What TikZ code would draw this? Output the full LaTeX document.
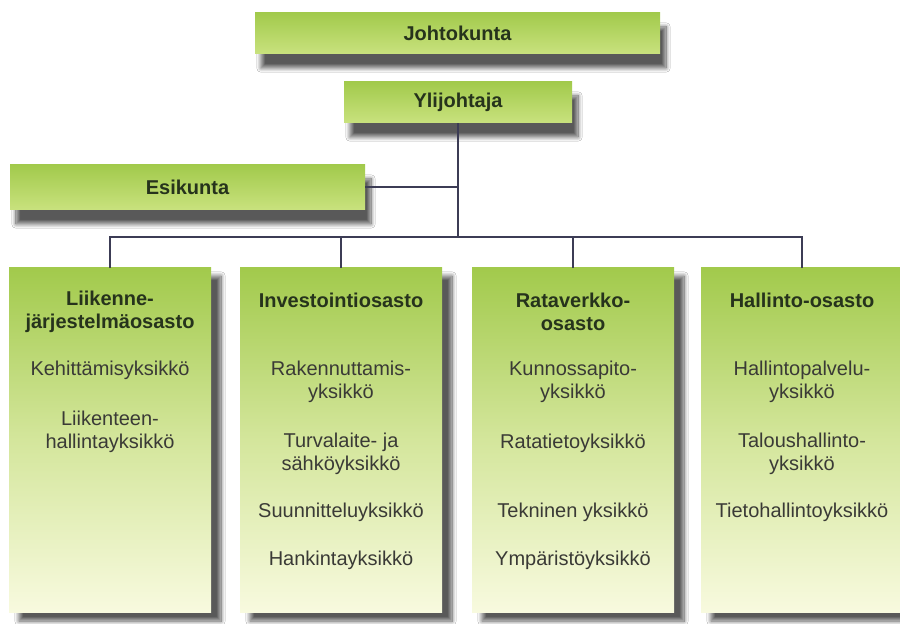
\documentclass[tikz,border=0pt]{standalone}
\usepackage{fontspec}
\setmainfont{Liberation Sans}
\usetikzlibrary{positioning, shadows.blur}
\definecolor{vrGreen}{HTML}{A2CA4C}
\definecolor{vrGreenLight}{HTML}{C9E27E}
\definecolor{vrPale}{HTML}{F8FADF}
\definecolor{vrMid}{HTML}{D4E69C}
\definecolor{vrText}{HTML}{26331C}
\definecolor{vrBody}{HTML}{3A3A36}
\definecolor{vrLine}{HTML}{3C3C55}
\tikzset{
  shadowT/.style={blur shadow={shadow xshift=3pt, shadow yshift=-7pt,
                  shadow blur steps=12, shadow opacity=65}},
  shadowC/.style={blur shadow={shadow xshift=5pt, shadow yshift=-4pt,
                  shadow blur steps=12, shadow opacity=65}},
  boxTop/.style={rectangle, top color=vrGreen, bottom color=vrGreenLight,
                 text=vrText, font=\bfseries\fontsize{10}{12}\selectfont,
                 minimum height=20.5pt, inner sep=0pt, shadowT},
  boxCol/.style={rectangle, shadowC, minimum width=101pt, minimum height=172.5pt,
                 inner sep=0pt, top color=vrGreen, bottom color=vrPale, middle color=vrMid},
  head/.style={align=center, text=vrText, font=\bfseries\fontsize{10}{11.5}\selectfont},
  unit/.style={align=center, text=vrBody, font=\fontsize{10}{11.5}\selectfont},
  link/.style={draw=vrLine, line width=1pt},
}
\begin{document}
\begin{tikzpicture}[x=0.5pt, y=-0.5pt]
  \useasboundingbox[fill=white] (0,0) rectangle (900,624);
  % ylin johto
  \node[boxTop, minimum width=202.5pt] (johto) at (457.5,33.5) {Johtokunta};
  \node[boxTop, minimum width=114pt] (yli) at (458,102.5) {Ylijohtaja};
  \node[boxTop, minimum width=177.5pt, minimum height=22.5pt] (esik) at (187.5,187.5) {Esikunta};
  % osastot
  \node[boxCol] (os1) at (110,440.5) {};
  \node[boxCol] (os2) at (341,440.5) {};
  \node[boxCol] (os3) at (573,440.5) {};
  \node[boxCol] (os4) at (802,440.5) {};
  % yhteydet
  \coordinate (hub) at (458,237);
  \draw[link] (yli.south) -- (hub);
  \draw[link] (esik.east) -- (esik.east -| hub);
  \draw[link] (os1.north) |- (hub) -| (os4.north);
  \draw[link] (os2.north) -- (os2.north |- hub);
  \draw[link] (os3.north) -- (os3.north |- hub);
  % Liikennejärjestelmäosasto
  \node[head] (h1) at (110,311.5) {Liikenne-\\järjestelmäosasto};
  \node[unit] (u11) at (110,370) {Kehittämisyksikkö};
  \node[unit] (u12) at (110,431.5) {Liikenteen-\\hallintayksikkö};
  % Investointiosasto
  \node[head] (h2) at (341,300) {Investointiosasto};
  \node[unit] (u21) at (341,381.5) {Rakennuttamis-\\yksikkö};
  \node[unit] (u22) at (341,454) {Turvalaite- ja\\sähköyksikkö};
  \node[unit] (u23) at (341,512) {Suunnitteluyksikkö};
  \node[unit] (u24) at (341,560) {Hankintayksikkö};
  % Rataverkko-osasto
  \node[head] (h3) at (573,311.5) {Rataverkko-\\osasto};
  \node[unit] (u31) at (573,381.5) {Kunnossapito-\\yksikkö};
  \node[unit] (u32) at (573,443) {Ratatietoyksikkö};
  \node[unit] (u33) at (573,512) {Tekninen yksikkö};
  \node[unit] (u34) at (573,560) {Ympäristöyksikkö};
  % Hallinto-osasto
  \node[head] (h4) at (802,300) {Hallinto-osasto};
  \node[unit] (u41) at (802,381.5) {Hallintopalvelu-\\yksikkö};
  \node[unit] (u42) at (802,454) {Taloushallinto-\\yksikkö};
  \node[unit] (u43) at (802,512) {Tietohallintoyksikkö};
\end{tikzpicture}
\end{document}
